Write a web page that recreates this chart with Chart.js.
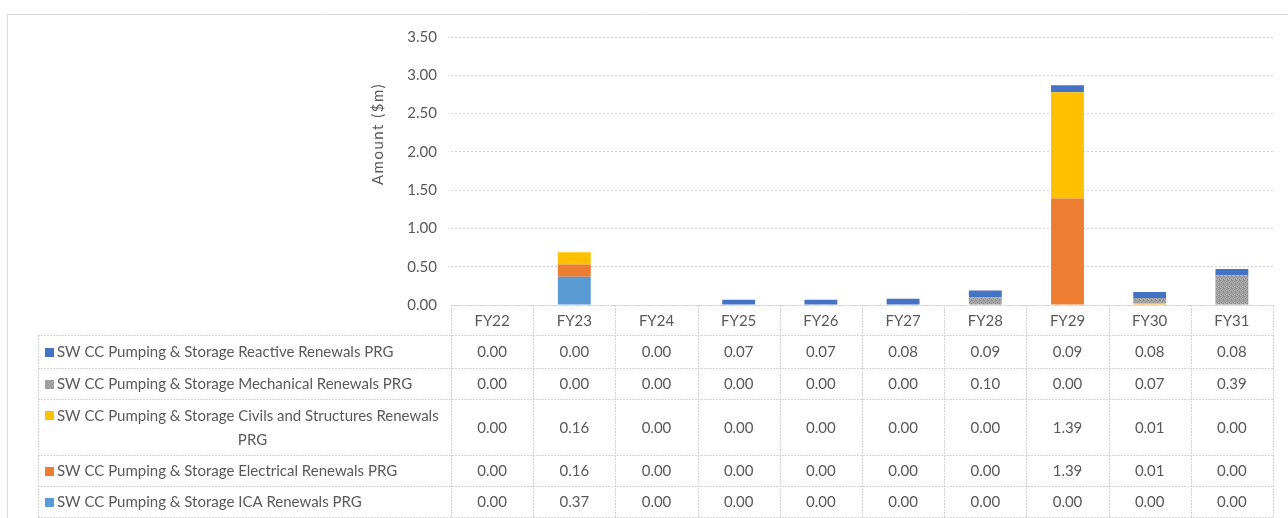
<!DOCTYPE html>
<html>
<head>
<meta charset="utf-8">
<script src="https://cdn.jsdelivr.net/npm/chart.js@4.4.1/dist/chart.umd.min.js"></script>
<style>
  html, body { margin: 0; padding: 0; background: #fff; }
  #wrap { position: relative; width: 1288px; height: 518px; }
</style>
</head>
<body>
<div id="wrap"><canvas id="prg" width="1288" height="518"></canvas></div>
<script>
const years = ["FY22", "FY23", "FY24", "FY25", "FY26", "FY27", "FY28", "FY29", "FY30", "FY31"];
const yTicks = [0, 0.5, 1, 1.5, 2, 2.5, 3, 3.5];

const reactive = [0.00, 0.00, 0.00, 0.07, 0.07, 0.08, 0.09, 0.09, 0.08, 0.08];
const mechanical = [0.00, 0.00, 0.00, 0.00, 0.00, 0.00, 0.10, 0.00, 0.07, 0.39];
const civils = [0.00, 0.16, 0.00, 0.00, 0.00, 0.00, 0.00, 1.39, 0.01, 0.00];
const electrical = [0.00, 0.16, 0.00, 0.00, 0.00, 0.00, 0.00, 1.39, 0.01, 0.00];
const ica = [0.00, 0.37, 0.00, 0.00, 0.00, 0.00, 0.00, 0.00, 0.00, 0.00];

const TEXT = "#595959";
const LINE = "#d4d4d4";
const FONT = "Lato, 'Open Sans', sans-serif";

// speckled grey fill for the mechanical series
function speckle(base, dot) {
  const c = document.createElement("canvas");
  c.width = 4;
  c.height = 4;
  const g = c.getContext("2d");
  g.fillStyle = base;
  g.fillRect(0, 0, 4, 4);
  g.fillStyle = dot;
  [[0, 0], [2, 1], [1, 2], [3, 3], [3, 0]].forEach(([px, py]) => g.fillRect(px, py, 1, 1));
  return g.createPattern(c, "repeat");
}
const greyFill = speckle("#a8a8a8", "#8e8e8e");

// stacked bottom to top; the table lists them top to bottom
const series = [
  { label: "SW CC Pumping & Storage ICA Renewals PRG", data: ica, color: "#5b9bd5" },
  { label: "SW CC Pumping & Storage Electrical Renewals PRG", data: electrical, color: "#ed7d31" },
  { label: "SW CC Pumping & Storage Civils and Structures Renewals PRG", data: civils, color: "#ffc000" },
  { label: "SW CC Pumping & Storage Mechanical Renewals PRG", data: mechanical, color: "#a5a5a5", fill: greyFill },
  { label: "SW CC Pumping & Storage Reactive Renewals PRG", data: reactive, color: "#4472c4" },
];

function wrapWords(ctx, text, maxW) {
  const words = text.split(" ");
  const lines = [];
  let cur = "";
  words.forEach((w) => {
    const next = cur ? cur + " " + w : w;
    if (ctx.measureText(next).width > maxW && cur) {
      lines.push(cur);
      cur = w;
    } else cur = next;
  });
  if (cur) lines.push(cur);
  return lines;
}

const frame = {
  id: "frame",
  beforeDraw(chart) {
    const { ctx } = chart;
    ctx.save();
    ctx.strokeStyle = "#d9d9d9";
    ctx.lineWidth = 1;
    ctx.beginPath();
    ctx.moveTo(7.5, chart.height);
    ctx.lineTo(7.5, 14.5);
    ctx.lineTo(chart.width, 14.5);
    ctx.stroke();
    ctx.restore();
  },
  afterDraw(chart) {
    const { ctx } = chart;
    ctx.save();
    ctx.translate(378, 134);
    ctx.rotate(-Math.PI / 2);
    ctx.font = "15px " + FONT;
    ctx.letterSpacing = "1.5px";
    ctx.fillStyle = TEXT;
    ctx.textAlign = "center";
    ctx.textBaseline = "middle";
    ctx.fillText("Amount ($m)", 0, 0);
    ctx.restore();
  },
};

// data table under the plot, columns taken from the category scale
const dataTable = {
  id: "dataTable",
  afterDraw(chart) {
    const { ctx, chartArea } = chart;
    const x = chart.scales.x;
    const half = (x.getPixelForValue(1) - x.getPixelForValue(0)) / 2;
    const labelLeft = 38;
    const left = chartArea.left;
    const right = chartArea.right;
    const top = chartArea.bottom;
    const headerH = 30;
    const rowH = [33, 31, 56, 31, 31];

    ctx.save();
    ctx.font = "15px " + FONT;
    ctx.fillStyle = TEXT;
    ctx.strokeStyle = LINE;
    ctx.lineWidth = 1;
    ctx.setLineDash([2, 1]);
    ctx.textBaseline = "middle";

    const rows = series.slice().reverse();
    let y = top + headerH;
    const edges = [y];
    rows.forEach((_, i) => {
      y += rowH[i];
      edges.push(y);
    });
    const bottom = y;

    // horizontal rules
    ctx.beginPath();
    ctx.moveTo(left, Math.round(top) + 0.5);
    ctx.lineTo(right, Math.round(top) + 0.5);
    edges.forEach((ey) => {
      ctx.moveTo(labelLeft, Math.round(ey) + 0.5);
      ctx.lineTo(right, Math.round(ey) + 0.5);
    });
    // vertical rules
    ctx.moveTo(labelLeft + 0.5, edges[0]);
    ctx.lineTo(labelLeft + 0.5, bottom);
    for (let i = 0; i <= years.length; i++) {
      const vx = Math.round(x.getPixelForValue(i) - half) + 0.5;
      ctx.moveTo(vx, top);
      ctx.lineTo(vx, bottom);
    }
    ctx.stroke();

    // header
    ctx.textAlign = "center";
    years.forEach((yr, i) => ctx.fillText(yr, x.getPixelForValue(i), top + headerH / 2 + 1));

    rows.forEach((s, r) => {
      const y0 = edges[r];
      const y1 = edges[r + 1];
      const mid = (y0 + y1) / 2 + 1;
      // legend key + series name
      const lines = wrapWords(ctx, s.label, left - labelLeft - 22);
      const lh = 24;
      const firstY = mid - ((lines.length - 1) * lh) / 2;
      ctx.fillStyle = s.fill || s.color;
      ctx.fillRect(labelLeft + 7, Math.round(firstY) - 5, 9, 9);
      ctx.fillStyle = TEXT;
      lines.forEach((ln, k) => {
        if (k === 0) {
          ctx.textAlign = "left";
          ctx.fillText(ln, labelLeft + 19, firstY);
        } else {
          ctx.textAlign = "center";
          ctx.fillText(ln, (labelLeft + left) / 2 + 8, firstY + k * lh);
        }
      });
      ctx.textAlign = "center";
      s.data.forEach((v, i) => ctx.fillText(v.toFixed(2), x.getPixelForValue(i), mid));
    });
    ctx.restore();
  },
};

Chart.defaults.font.family = FONT;
Chart.defaults.color = TEXT;

new Chart(document.getElementById("prg"), {
  type: "bar",
  data: {
    labels: years,
    datasets: series.map((s) => ({
      label: s.label,
      data: s.data,
      backgroundColor: s.fill || s.color,
      borderWidth: 0,
      barPercentage: 0.4,
      categoryPercentage: 1,
    })),
  },
  options: {
    responsive: false,
    animation: false,
    layout: { padding: { left: 0, top: 37, right: 15, bottom: 213 } },
    scales: {
      x: { stacked: true, display: false },
      y: {
        stacked: true,
        min: 0,
        max: 3.5,
        afterFit: (scale) => { scale.width = 451; },
        afterBuildTicks: (scale) => { scale.ticks = yTicks.map((v) => ({ value: v })); },
        ticks: {
          padding: 14,
          font: { size: 15 },
          color: TEXT,
          callback: (v) => Number(v).toFixed(2),
        },
        grid: { color: LINE, drawTicks: false },
        border: { display: false, dash: [2, 2] },
      },
    },
    plugins: {
      legend: { display: false },
      tooltip: { enabled: false },
    },
  },
  plugins: [frame, dataTable],
});
</script>
</body>
</html>
